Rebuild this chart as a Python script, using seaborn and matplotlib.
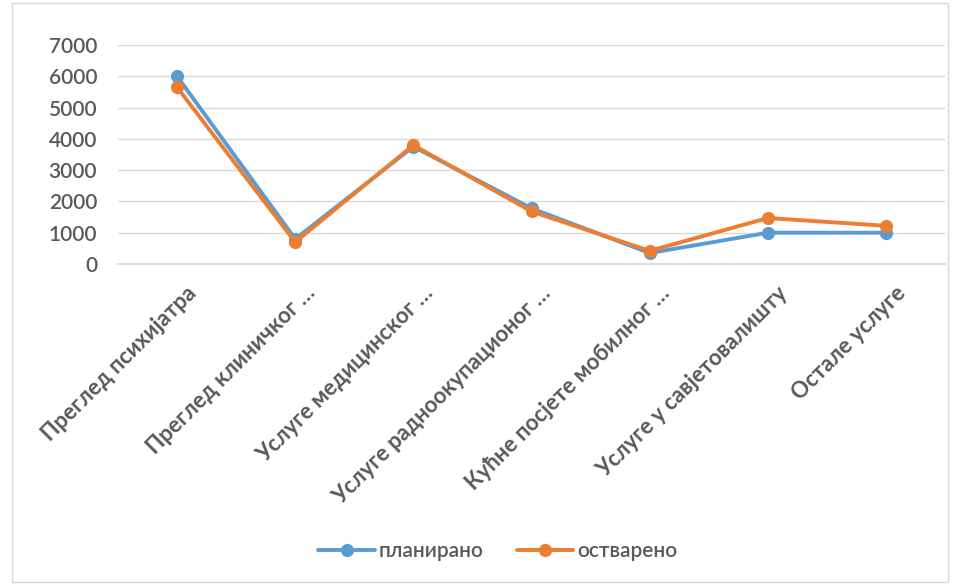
import matplotlib
matplotlib.use("Agg")
import matplotlib.pyplot as plt
import matplotlib.transforms as mtransforms
import seaborn as sns
import pandas as pd
from matplotlib.patches import Rectangle

categories = ["Преглед психијатра", "Преглед клиничког …", "Услуге медицинског …",
              "Услуге радноокупационог …", "Кућне посјете мобилног …",
              "Услуге у савјетовалишту", "Остале услуге"]
planirano = [6000, 800, 3750, 1780, 350, 1000, 1000]
ostvareno = [5650, 700, 3800, 1680, 420, 1470, 1220]
series_names = ["планирано", "остварено"]
y_ticks = [0, 1000, 2000, 3000, 4000, 5000, 6000, 7000]

sns.set_theme(style="white")
plt.rcParams['font.family'] = ['Lato', 'DejaVu Sans']

rows = []
for name, vals in zip(series_names, [planirano, ostvareno]):
    for c, v in zip(categories, vals):
        rows.append({"cat": c, "val": v, "series": name})
df = pd.DataFrame(rows)

fig = plt.figure(figsize=(9.55, 5.85), dpi=100)
ax = fig.add_axes([118/955, 1-264/585, (945-118)/955, (264-45)/585])

palette = {"планирано": "#5B9BD5", "остварено": "#ED7D31"}
sns.lineplot(data=df, x="cat", y="val", hue="series", palette=palette, sort=False,
             marker="o", markersize=9.5, markeredgewidth=0, linewidth=2.8, ax=ax,
             legend=True)

ax.set_xlim(-0.5, len(categories) - 0.5)
ax.set_ylim(0, 7000)
ax.set_yticks(y_ticks)
ax.set_yticklabels([str(t) for t in y_ticks], fontsize=15, color="#595959",
                   fontweight="semibold")
ax.grid(axis="y", color="#D9D9D9", linewidth=1)
ax.set_axisbelow(True)
for s in ["top", "right", "left"]:
    ax.spines[s].set_visible(False)
ax.spines["bottom"].set_color("#D9D9D9")
ax.tick_params(axis="y", length=0, pad=15)
ax.tick_params(axis="x", length=0, pad=6)
ax.set_xticks(range(len(categories)))
ax.set_xticklabels(categories, rotation=45, ha="right", va="top",
                   rotation_mode="anchor", fontsize=16, color="#595959",
                   fontweight="bold")
offset = mtransforms.ScaledTranslation(9/100, -10/100, fig.dpi_scale_trans)
for lbl in ax.get_xticklabels():
    lbl.set_transform(lbl.get_transform() + offset)
ax.set_xlabel("")
ax.set_ylabel("")

leg = ax.legend(loc="center", bbox_to_anchor=(498/955, 1 - 551/585),
                bbox_transform=fig.transFigure,
                ncol=2, frameon=False, fontsize=15, labelcolor="#595959",
                handlelength=2.7, columnspacing=1.6, handletextpad=0.2)
for t in leg.get_texts():
    t.set_fontweight("semibold")

fig.patches.append(Rectangle((12/955, 3/585), (948-12)/955, (582-3)/585,
                             transform=fig.transFigure, fill=False,
                             edgecolor="#D9D9D9", linewidth=1))

fig.savefig("out.png", dpi=100)
